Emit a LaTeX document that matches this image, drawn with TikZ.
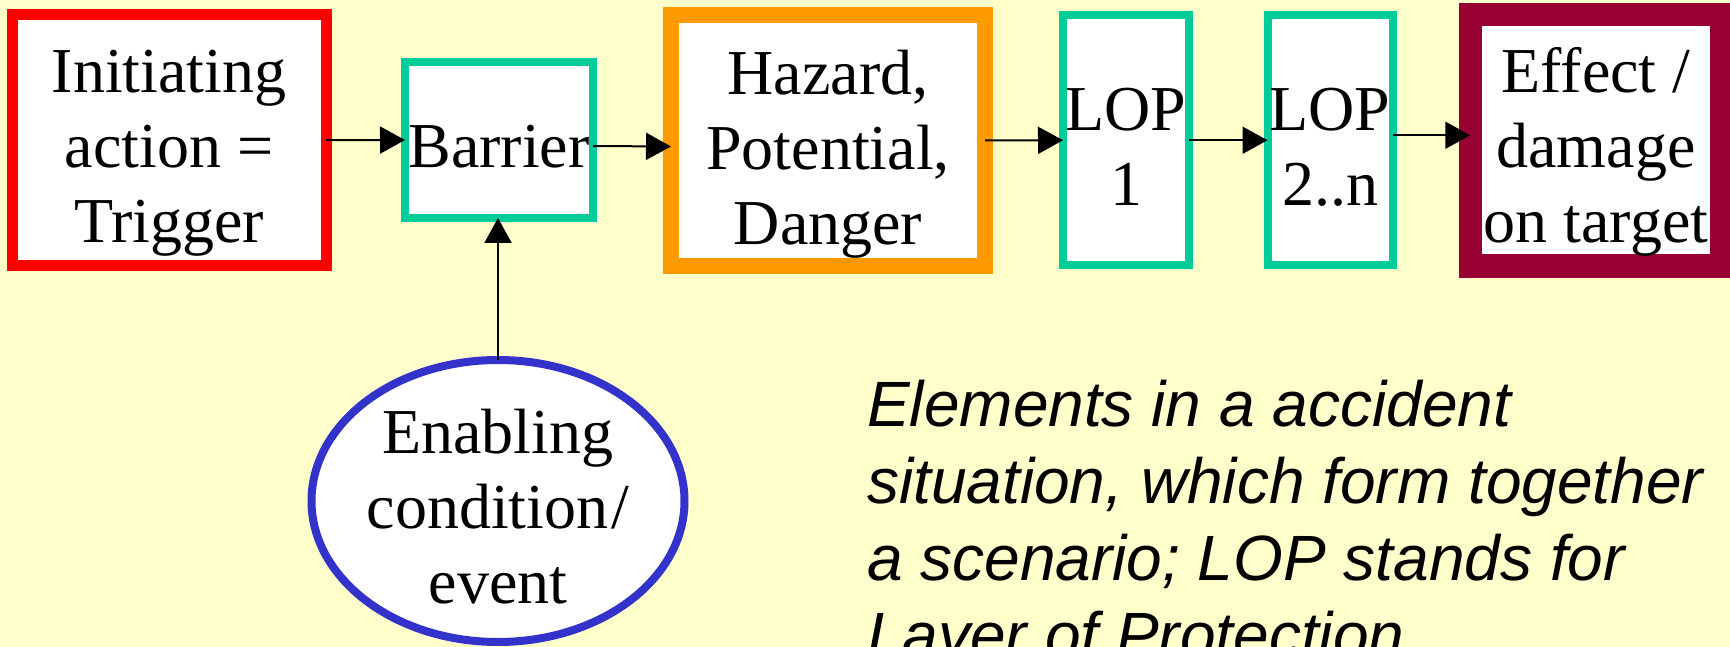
\documentclass[tikz,border=0pt]{standalone}
\usepackage{fontspec}
\setmainfont{Liberation Serif}
\newfontfamily\notefont{Liberation Sans}
\usetikzlibrary{arrows.meta,shapes.geometric}

\definecolor{bgyellow}{HTML}{FFFFCC}
\definecolor{trigred}{HTML}{FF0000}
\definecolor{lopgreen}{HTML}{00CC99}
\definecolor{hazorange}{HTML}{FF9900}
\definecolor{effmaroon}{HTML}{990033}
\definecolor{condblue}{HTML}{3333CC}

% centred block of lines whose box baseline is the first line's baseline
\newcommand{\stacklines}[1]{\makebox[0pt]{\parbox[t]{420pt}{\centering #1}}}

\begin{document}
\begin{tikzpicture}[x=1pt,y=-1pt,
  elem/.style={fill=white, inner sep=0pt, outer sep=0pt,
    font=\fontsize{64}{75}\selectfont},
  box/.style={elem, rectangle},
  lift/.style={text height=0pt, text depth=#1},
  flow/.style={-{Triangle[length=25pt,width=27pt]}, line width=2pt, black}]

  \clip (0,0) rectangle (1730,647);
  \fill[bgyellow] (0,0) rectangle (1730,647);

  % chain of scenario elements
  \node[box, draw=trigred, line width=11pt, minimum width=314pt,
        minimum height=250.5pt, lift=94.5pt] (trig) at (169,140.25)
        {\stacklines{Initiating\\action =\\Trigger}};
  \node[box, draw=lopgreen, line width=7.5pt, minimum width=188pt,
        minimum height=156pt, text height=56pt, text depth=0pt] (barrier) at (499,140)
        {\stacklines{Barrier}};
  \node[box, draw=hazorange, line width=15.5pt, minimum width=314pt,
        minimum height=251pt, lift=92.4pt] (haz) at (828,140.5)
        {\stacklines{Hazard,\\Potential,\\Danger}};
  \node[box, draw=lopgreen, line width=8pt, minimum width=126pt,
        minimum height=250.5pt, lift=18.5pt] (lopa) at (1126,140.25)
        {\stacklines{LOP\\1}};
  \node[box, draw=lopgreen, line width=8pt, minimum width=125pt,
        minimum height=250.5pt, lift=18.5pt] (lopb) at (1330,140.25)
        {\stacklines{LOP\\2..n}};
  \node[box, draw=effmaroon, line width=23.5pt, minimum width=251.5pt,
        minimum height=251pt, lift=94.5pt] (eff) at (1596,140.25)
        {\stacklines{Effect /\\damage\\on target}};

  % enabling condition
  \node[elem, ellipse, draw=condblue, line width=8pt, minimum width=373pt,
        minimum height=282pt, lift=96pt] (cond) at (498,501)
        {\stacklines{Enabling\\condition\hspace{3pt}/\\event}};

  % connectors
  \draw[flow] (trig.east) -- (barrier.west);
  \draw[flow] ([yshift=-6pt]barrier.east) -- ([yshift=-6pt]haz.west);
  \draw[flow] (haz.east) -- (lopa.west);
  \draw[flow] (lopa.east) -- (lopb.west);
  \draw[flow] ([yshift=5pt]lopb.east) -- ([yshift=5pt]eff.west);
  \draw[flow] (cond.north) -- (cond.north |- barrier.south);

  % explanatory note
  \node[anchor=base west, inner sep=0pt,
        font=\notefont\itshape\fontsize{64}{77}\selectfont] (note) at (867,426.7)
        {\parbox[t]{900pt}{\raggedright Elements in a accident\\
         situation, which form together\\
         a scenario; LOP stands for\\
         Layer of Protection}};
\end{tikzpicture}
\end{document}
